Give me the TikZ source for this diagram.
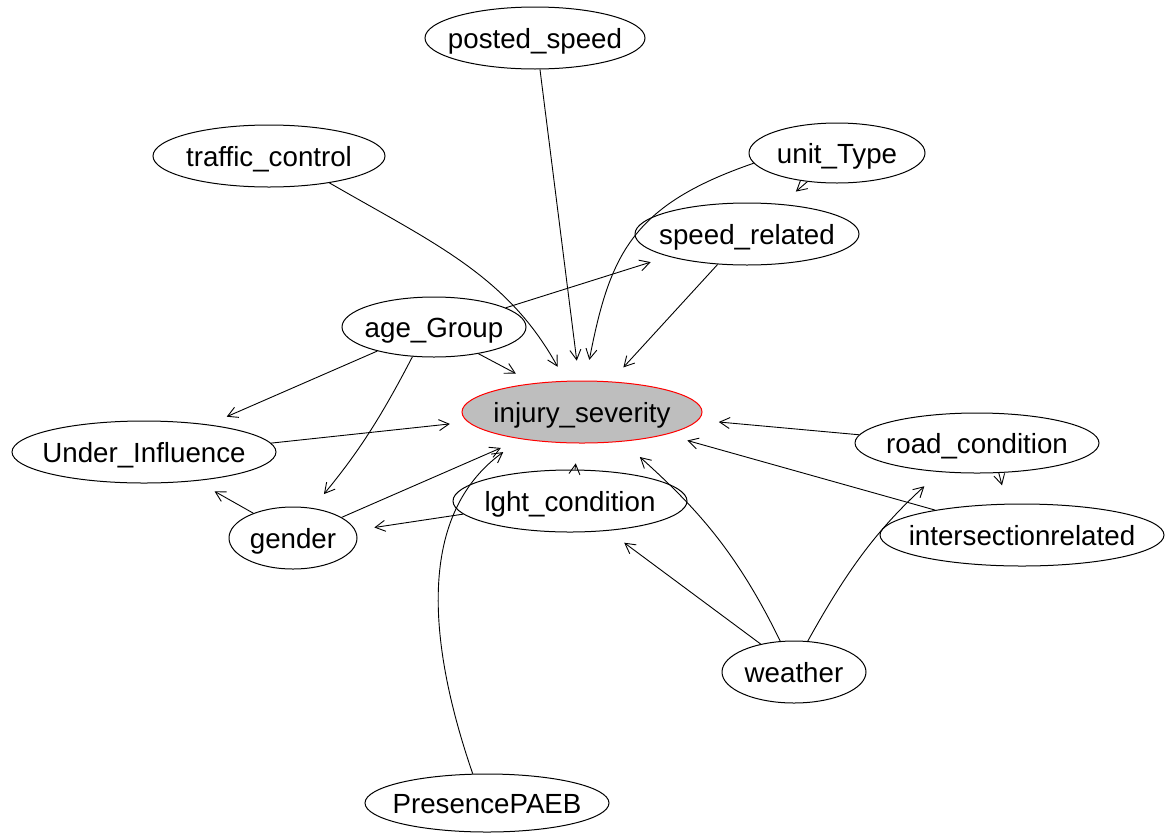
\documentclass[tikz,border=0pt]{standalone}
\usepackage{fontspec}
\setmainfont{Liberation Sans}
\usetikzlibrary{arrows.meta,shapes.geometric}
\definecolor{isgray}{RGB}{190,190,190}
\newcommand\lbl[1]{\makebox[0pt]{#1}}
\begin{document}
\begin{tikzpicture}[x=1pt,y=1pt,
  var/.style 2 args={ellipse, draw=black, line width=1pt,
    minimum width=#1pt, minimum height=#2pt, inner sep=0pt,
    text height=25pt, text depth=5pt,
    font=\fontsize{27.7}{33}\selectfont},
  edge/.style={draw=black, line width=0.9pt,
    -{Straight Barb[length=10pt,width=11pt]}}]
\useasboundingbox (0,0) rectangle (1166,-833);

% variables
\node[var={220}{62}] (PS) at (535,-38) {\lbl{posted\_speed}};
\node[var={232}{62}] (TC) at (269,-156) {\lbl{traffic\_control}};
\node[var={176}{60}] (UT) at (837,-153) {\lbl{unit\_Type}};
\node[var={224}{62}] (SR) at (747,-234) {\lbl{speed\_related}};
\node[var={184}{60}] (AG) at (434,-327) {\lbl{age\_Group}};
\node[var={240}{62}, draw=red, fill=isgray] (IS) at (582,-412) {\lbl{injury\_severity}};
\node[var={264}{62}] (UI) at (144,-452) {\lbl{Under\_Influence}};
\node[var={244}{60}] (RC) at (977,-443) {\lbl{road\_condition}};
\node[var={234}{62}] (LC) at (570,-501) {\lbl{lght\_condition}};
\node[var={128}{62}] (GE) at (293,-538) {\lbl{gender}};
\node[var={284}{62}] (IR) at (1022,-535) {\lbl{intersectionrelated}};
\node[var={144}{62}] (WE) at (794,-672) {\lbl{weather}};
\node[var={244}{58}] (PP) at (487,-803) {\lbl{PresencePAEB}};

% arcs
\draw[edge, shorten >=20pt] (PS.-81) -- (IS.95.6);
\draw[edge, shorten >=16pt] (TC.-24) to[out=-30,in=119] (IS.118);
\draw[edge, shorten >=21pt] (UT.187) to[out=199,in=79,looseness=1.2] (IS.84.5);
\draw[edge, shorten >=19pt] (UT.-136) -- (SR.41);
\draw[edge, shorten >=19pt] (SR.-134) -- (IS.47);
\draw[edge, shorten >=18.6pt] (AG.15) -- (SR.196.6);
\draw[edge, shorten >=20.5pt] (AG.-31) -- (IS.149);
\draw[edge, shorten >=19.6pt] (AG.-157) -- (UI.23.4);
\draw[edge, shorten >=18pt] (AG.-126) to[bend left=6] (GE.57.2);
\draw[edge, shorten >=18pt] (UI.4) -- (IS.185.7);
\draw[edge, shorten >=21pt] (GE.148.6) -- (UI.-29.5);
\draw[edge, shorten >=22pt] (GE.23.2) -- (IS.204.5);
\draw[edge, shorten >=20pt] (LC.81) -- (IS.-97.8);
\draw[edge, shorten >=19pt] (LC.187.6) -- (GE.7.8);
\draw[edge, shorten >=22pt] (PP.116) to[out=109,in=216] (IS.204.5);
\draw[edge, shorten >=20.5pt] (RC.176.7) -- (IS.-4.2);
\draw[edge, shorten >=19pt] (RC.-54) -- (IR.116.6);
\draw[edge, shorten >=22pt] (IR.164.5) -- (IS.-15);
\draw[edge, shorten >=23pt] (WE.114) to[out=116,in=-42] (IS.-36.5);
\draw[edge, shorten >=20pt] (WE.140) -- (LC.-38.4);
\draw[edge, shorten >=21pt] (WE.66.4) to[out=61,in=222.6] (RC.218.9);
\end{tikzpicture}
\end{document}
